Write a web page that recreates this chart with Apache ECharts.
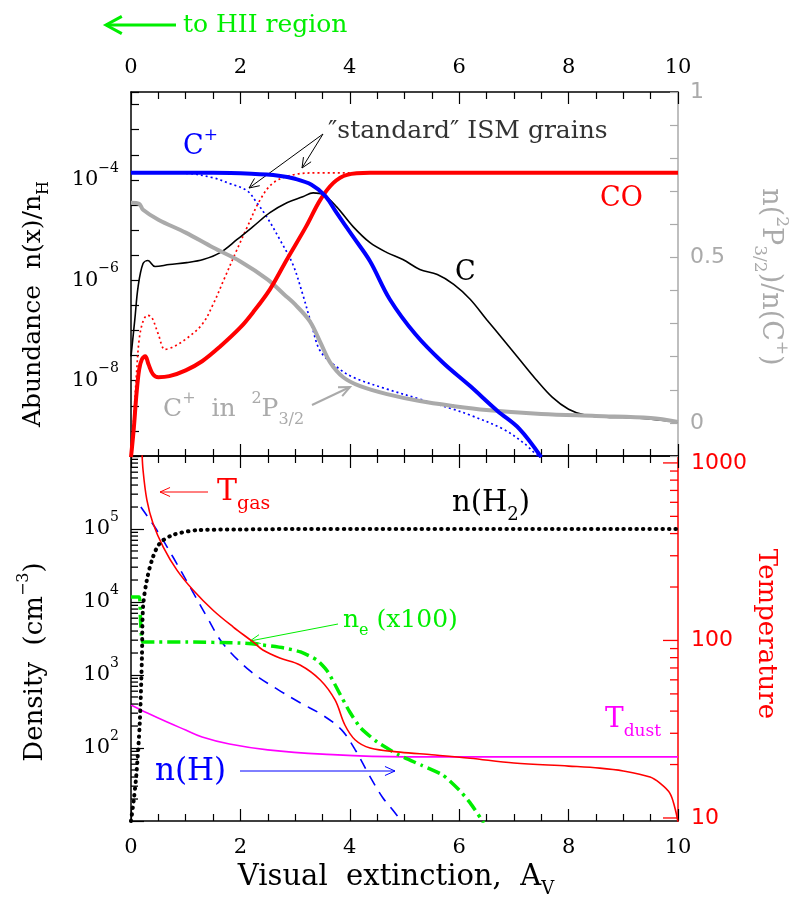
<!DOCTYPE html>
<html><head><meta charset="utf-8">
<script src="https://cdn.jsdelivr.net/npm/echarts@6/dist/echarts.min.js"></script>
<style>html,body{margin:0;padding:0;background:#fff}#c{width:800px;height:918px}</style>
</head><body><div id="c"></div>
<script>
// ---------- DATA ----------
// x: visual extinction A_V
const xTicks = [0, 2, 4, 6, 8, 10];

// Top panel: abundances n(x)/n_H
const avCplus = [0, 1.5, 2.2, 2.7, 3.0, 3.3, 3.55, 3.76, 4.06, 4.37, 4.73, 5.2, 5.7, 6.2, 6.7, 7.1, 7.5];
const cplus = [1.38e-4, 1.38e-4, 1.32e-4, 1.21e-4, 1.05e-4, 8.0e-5, 4.8e-5, 2.2e-5, 7.4e-6, 2.4e-6, 4.2e-7, 8.4e-8, 2.3e-8, 7.8e-9, 2.5e-9, 1.1e-9, 3.0e-10];

const avCplusStd = [0, 1.0, 1.5, 1.81, 2.12, 2.3, 2.49, 2.72, 2.96, 3.14, 3.3, 3.46, 3.77, 4.06, 4.68, 5.28, 5.89, 6.2, 6.8, 7.2, 7.45];
const cplusStd = [1.38e-4, 1.35e-4, 1.1e-4, 8.4e-5, 6.1e-5, 3.5e-5, 1.77e-5, 6.5e-6, 2.06e-6, 5.2e-7, 1.32e-7, 3.9e-8, 1.85e-8, 1.17e-8, 6.8e-9, 4.3e-9, 2.7e-9, 2.06e-9, 1.09e-9, 5.5e-10, 3.0e-10];

const avCO = [0, 0.05, 0.1, 0.15, 0.2, 0.26, 0.32, 0.4, 0.5, 0.7, 1.0, 1.3, 1.63, 2.0, 2.23, 2.54, 2.85, 3.2, 3.46, 3.7, 3.95, 4.37, 6, 8, 10];
const co = [3.0e-10, 1.09e-9, 5.4e-9, 1.69e-8, 2.67e-8, 3.06e-8, 2.12e-8, 1.35e-8, 1.17e-8, 1.23e-8, 1.61e-8, 2.44e-8, 4.8e-8, 1.15e-7, 2.29e-7, 6.6e-7, 2.6e-6, 1.17e-5, 4.0e-5, 8.7e-5, 1.26e-4, 1.38e-4, 1.38e-4, 1.38e-4, 1.38e-4];

const avCOStd = [0, 0.05, 0.1, 0.15, 0.22, 0.3, 0.38, 0.5, 0.62, 0.75, 1.0, 1.3, 1.5, 1.7, 1.9, 2.12, 2.36, 2.6, 2.96, 3.46, 6, 10];
const coStd = [3.0e-10, 1.72e-9, 1.35e-8, 6.7e-8, 1.52e-7, 2.0e-7, 1.82e-7, 8.4e-8, 4.2e-8, 4.6e-8, 6.7e-8, 1.32e-7, 3.3e-7, 1.04e-6, 3.3e-6, 1.12e-5, 4.0e-5, 8.7e-5, 1.26e-4, 1.38e-4, 1.38e-4, 1.38e-4];

const avC = [0, 0.07, 0.13, 0.22, 0.31, 0.44, 0.7, 1.02, 1.32, 1.63, 1.94, 2.23, 2.54, 2.85, 3.14, 3.33, 3.51, 3.76, 4.06, 4.37, 4.68, 4.97, 5.28, 5.6, 5.9, 6.2, 6.5, 6.8, 7.1, 7.4, 7.7, 8.0, 8.3, 8.7, 9.3, 10];
const carbon = [3.06e-8, 1.66e-7, 7.5e-7, 2.16e-6, 2.47e-6, 1.88e-6, 2.06e-6, 2.25e-6, 2.59e-6, 3.56e-6, 6.5e-6, 1.17e-5, 2.22e-5, 3.5e-5, 4.6e-5, 5.5e-5, 5.1e-5, 2.9e-5, 1.17e-5, 5.6e-6, 3.56e-6, 2.59e-6, 1.64e-6, 1.3e-6, 8.3e-7, 4.2e-7, 1.66e-7, 6.7e-8, 2.67e-8, 1.07e-8, 4.7e-9, 2.7e-9, 2.06e-9, 1.88e-9, 1.8e-9, 1.5e-9];

// fraction of C+ in 2P3/2 (right grey axis)
const avFrac = [0, 0.15, 0.22, 0.5, 1.0, 1.5, 2.0, 2.5, 2.8, 3.0, 3.27, 3.46, 3.64, 3.88, 4.19, 4.68, 5.28, 5.89, 6.5, 7.5, 8.5, 9.5, 10];
const frac = [0.665, 0.662, 0.644, 0.614, 0.575, 0.530, 0.488, 0.433, 0.388, 0.358, 0.307, 0.244, 0.183, 0.138, 0.111, 0.087, 0.066, 0.051, 0.039, 0.027, 0.021, 0.015, 0.003];

// Bottom panel: densities (cm^-3)
const avH2 = [0, 0.05, 0.1, 0.16, 0.2, 0.22, 0.29, 0.4, 0.53, 0.77, 1.26, 2.0, 3.0, 10];
const nH2 = [10, 19.4, 45, 220, 1770, 8550, 2.0e4, 4.1e4, 6.4e4, 8.3e4, 9.7e4, 9.85e4, 1.0e5, 1.0e5];

const avH = [0.18, 0.47, 0.77, 1.08, 1.39, 1.68, 2.2, 2.7, 3.1, 3.5, 3.85, 4.1, 4.35, 4.6, 4.8, 5.0];
const nH = [2.0e5, 9.7e4, 4.1e4, 1.6e4, 6.2e3, 2.7e3, 1.1e3, 622, 413, 283, 177, 94, 43, 21, 13.7, 8.8];

const avE = [0, 0.15, 0.17, 0.19, 0.22, 0.5, 1.0, 2.0, 2.4, 2.8, 3.1, 3.4, 3.6, 3.8, 4.0, 4.2, 4.5, 4.9, 5.3, 5.7, 6.0, 6.2, 6.45];
const ne100 = [1.17e4, 1.17e4, 6.6e3, 3.5e3, 2.83e3, 2.83e3, 2.83e3, 2.74e3, 2.58e3, 2.34e3, 2.07e3, 1.6e3, 1.1e3, 585, 311, 188, 121, 80, 58.5, 42.7, 26.6, 17.7, 9.4];

// Temperatures (K, right red axis)
const avTgas = [0.2, 0.22, 0.29, 0.4, 0.59, 0.84, 1.13, 1.5, 1.87, 2.23, 2.41, 2.72, 3.09, 3.46, 3.73, 3.91, 4.1, 4.37, 4.92, 5.5, 6.2, 7.0, 8.0, 8.57, 9.0, 9.49, 9.67, 9.85, 9.94, 10];
const tgas = [1180, 912, 619, 459, 336, 249, 193, 148, 119, 98.1, 88.4, 79.7, 72.8, 59.9, 46.2, 33.4, 27.5, 24.8, 23.5, 22.7, 21.7, 20.4, 19.6, 19.1, 18.4, 17.0, 15.7, 13.8, 11.5, 9.5];

const avTdust = [0, 0.3, 0.66, 1.0, 1.3, 1.8, 2.5, 3.5, 5.0, 10];
const tdust = [43.3, 39.0, 34.7, 31.3, 28.6, 26.1, 24.2, 22.9, 22.1, 22.1];

// axis tick labels
const abundLabelExp = [-4, -6, -8];
const densLabelExp = [2, 3, 4, 5];
const tempLabels = [10, 100, 1000];
const fracLabels = [0, 0.5, 1];
const minorMantissa = [2, 3, 4, 5, 6, 7, 8, 9];

// ---------- STYLE HELPERS ----------
const SERIF = "'DejaVu Serif', serif";
const SANS = "'DejaVu Sans', sans-serif";
const BLUE = '#0000ff', RED = '#ff0000', GREY = '#aaaaaa', GREEN = '#00ee00', MAG = '#ff00ff';

function richFor(fs, color) {
  const s = Math.round(fs * 0.62);
  return {
    sup: {fontSize: s, fontFamily: SERIF, fill: color, verticalAlign: 'top', lineHeight: s},
    sub: {fontSize: s, fontFamily: SERIF, fill: color, verticalAlign: 'bottom', lineHeight: Math.round(fs * 0.86)}
  };
}
function label(x, y, text, fs, color, opts) {
  opts = opts || {};
  return {type: 'text', x: x, y: y, rotation: opts.rot || 0, z: 100, silent: true,
    style: {text: text, fontSize: fs, fontFamily: opts.family || SERIF, fill: color,
      align: opts.align || 'left', verticalAlign: 'middle', lineHeight: Math.round(fs * 1.46),
      rich: richFor(fs, color)}};
}
function arrow(x1, y1, x2, y2, color, lw, head, ang) {
  const a = Math.atan2(y2 - y1, x2 - x1), s = ang || 0.42;
  return {type: 'group', z: 100, silent: true, children: [
    {type: 'line', shape: {x1: x1, y1: y1, x2: x2, y2: y2}, style: {stroke: color, lineWidth: lw}},
    {type: 'polyline', shape: {points: [[x2 - head * Math.cos(a - s), y2 - head * Math.sin(a - s)], [x2, y2],
      [x2 - head * Math.cos(a + s), y2 - head * Math.sin(a + s)]]}, style: {stroke: color, lineWidth: lw, fill: null}}
  ]};
}
function near(v, list) { return list.find(t => Math.abs(v - t) < 1e-6 * Math.max(1, Math.abs(t))); }
function expLabel(v, keep) {
  const n = near(v, keep);
  if (n === undefined) return '';
  return '10{s|' + (n < 0 ? '\u2212' + (-n) : n) + '}';
}

function xAx(grid, pos, showLabel) {
  return {type: 'value', gridIndex: grid, position: pos, min: 0, max: 10, interval: 2,
    axisLine: {show: true, onZero: false, lineStyle: {color: '#000', width: 1.5}},
    axisTick: {show: true, inside: true, length: 12, lineStyle: {color: '#000', width: 1.2}},
    minorTick: {show: true, splitNumber: 4, length: 7, lineStyle: {color: '#000', width: 1.2}},
    splitLine: {show: false}, minorSplitLine: {show: false},
    axisLabel: {show: showLabel, margin: pos === 'top' ? 14 : 16, fontSize: 21, fontFamily: SERIF, color: '#000',
      formatter: v => (near(v, xTicks) !== undefined ? String(Math.round(v)) : '')}};
}
const expRich = {s: {fontSize: 14, fontFamily: SERIF, color: '#000', verticalAlign: 'top', lineHeight: 14}};

const yAxes = [
  {type: 'value', gridIndex: 0, position: 'left', min: -9.5, max: -2.25, interval: 0.5,
    axisLine: {show: true, onZero: false, lineStyle: {color: '#000', width: 1.5}},
    axisTick: {show: true, inside: true, length: 8, lineStyle: {color: '#000', width: 1.2}},
    splitLine: {show: false},
    axisLabel: {margin: 12, fontSize: 21, fontFamily: SERIF, color: '#000', lineHeight: 38, rich: expRich,
      formatter: v => expLabel(v, abundLabelExp)}},
  {type: 'value', gridIndex: 0, position: 'right', min: -0.1, max: 1, interval: 0.1,
    axisLine: {show: true, onZero: false, lineStyle: {color: GREY, width: 1.5}},
    axisTick: {show: true, inside: true, length: 8, lineStyle: {color: GREY, width: 1.2}},
    splitLine: {show: false},
    axisLabel: {margin: 12, fontSize: 22, fontFamily: SANS, color: GREY,
      formatter: v => { const t = near(v, fracLabels); return t === undefined ? '' : String(t); }}},
  {type: 'value', gridIndex: 1, position: 'left', min: 1, max: 6, interval: 1,
    axisLine: {show: true, onZero: false, lineStyle: {color: '#000', width: 1.5}},
    axisTick: {show: true, inside: true, length: 13, lineStyle: {color: '#000', width: 1.2}},
    splitLine: {show: false},
    axisLabel: {margin: 12, fontSize: 21, fontFamily: SERIF, color: '#000', lineHeight: 38, rich: expRich,
      formatter: v => expLabel(v, densLabelExp)}},
  {type: 'value', gridIndex: 1, position: 'right', min: 0.983, max: 3.039, splitNumber: 2,
    axisLine: {show: true, onZero: false, lineStyle: {color: RED, width: 1.5}},
    axisTick: {show: false},
    splitLine: {show: false},
    axisLabel: {margin: 13, fontSize: 22, fontFamily: SANS, color: RED,
      formatter: v => { const t = near(Math.pow(10, v), tempLabels); return t === undefined ? '' : String(t); }}}
];

const L10 = Math.log10;
const ident = v => v;
function ln(xs, ys, xi, yi, style, tf, smooth, z) {
  return {type: 'line', xAxisIndex: xi, yAxisIndex: yi, data: xs.map((x, i) => [x, tf(ys[i])]),
    showSymbol: false, symbol: 'none', smooth: smooth, lineStyle: style, clip: true, silent: true, z: z || 2,
    animation: false};
}
// log tick positions (ticks only, not data)
function logTicks(decFrom, decTo, mantissas) {
  const out = [];
  for (let d = decFrom; d < decTo; d++) mantissas.forEach(m => out.push([0, d + L10(m)]));
  return out;
}
function tickSeries(xi, yi, data, side, len, color) {
  return {type: 'custom', xAxisIndex: xi, yAxisIndex: yi, data: data, silent: true, z: 5, animation: false,
    renderItem: (params, api) => {
      const p = api.coord([side === 'left' ? 0 : 10, api.value(1)]);
      const dx = side === 'left' ? len : -len;
      return {type: 'line', shape: {x1: p[0], y1: p[1], x2: p[0] + dx, y2: p[1]}, style: {stroke: color, lineWidth: 1.3}};
    }};
}

const dotted = [2, 3];
const series = [
  ln(avCplusStd, cplusStd, 0, 0, {color: BLUE, width: 1.7, type: dotted}, L10, 0.35),
  ln(avCOStd, coStd, 0, 0, {color: RED, width: 1.7, type: dotted}, L10, 0.35),
  ln(avC, carbon, 0, 0, {color: '#000', width: 1.6}, L10, 0.35),
  ln(avFrac, frac, 0, 1, {color: GREY, width: 4}, ident, 0.35),
  ln(avCO, co, 0, 0, {color: RED, width: 4}, L10, 0.35, 3),
  ln(avCplus, cplus, 0, 0, {color: BLUE, width: 4}, L10, 0.35, 4),

  ln(avTdust, tdust, 3, 3, {color: MAG, width: 1.6}, L10, 0.4),
  ln(avH, nH, 3, 2, {color: BLUE, width: 1.6, type: [11, 8]}, L10, 0.35),
  ln(avE, ne100, 3, 2, {color: GREEN, width: 3.5, type: [13, 5, 3, 5]}, L10, 0.2),
  ln(avTgas, tgas, 3, 3, {color: RED, width: 1.6}, L10, 0.35),
  ln(avH2, nH2, 3, 2, {color: '#000', width: 4, type: [0.5, 6], cap: 'round'}, L10, 0.3, 3),

  tickSeries(3, 2, logTicks(1, 6, minorMantissa), 'left', 7, '#000'),
  tickSeries(3, 3, logTicks(1, 3, minorMantissa), 'right', 8, RED),
  tickSeries(3, 3, logTicks(1, 4, [1]), 'right', 15, RED)
];

const graphics = [
  arrow(176, 25, 106, 25, GREEN, 3, 18, 0.5),
  label(183, 25, 'to HII region', 25, GREEN),
  label(183, 147, 'C{sup|+}', 27, BLUE),
  label(328, 131, '\u2033standard\u2033 ISM grains', 25, '#333333'),
  arrow(323, 134, 249, 188, '#000', 1, 11),
  arrow(323, 134, 302, 168, '#000', 1, 11),
  label(600, 199, 'CO', 27, RED),
  label(455, 273, 'C', 27, '#000'),
  label(163, 409, 'C{sup|+}  in  {sup|2}P{sub|3/2}', 25, GREY),
  arrow(312, 405, 350, 387, GREY, 2, 12),
  label(217, 492, 'T{sub|gas}', 30, RED),
  arrow(208, 492, 160, 492, RED, 1, 11),
  label(452, 503, 'n(H{sub|2})', 29, '#000'),
  label(343, 620, 'n{sub|e} (x100)', 25, GREEN),
  arrow(338, 624, 250, 641, GREEN, 1, 11),
  label(605, 720, 'T{sub|dust}', 28, MAG),
  label(155, 772, 'n(H)', 31, BLUE),
  arrow(240, 771, 395, 771, BLUE, 1, 11),
  label(33, 304, 'Abundance  n(x)/n{sub|H}', 25, '#000', {align: 'center', rot: Math.PI / 2}),
  label(770, 277, 'n({sup|2}P{sub|3/2})/n(C{sup|+})', 27, GREY, {align: 'center', rot: -Math.PI / 2}),
  label(35, 662, 'Density  (cm{sup|\u22123})', 26, '#000', {align: 'center', rot: Math.PI / 2}),
  label(766, 634, 'Temperature', 26, RED, {align: 'center', rot: -Math.PI / 2}),
  label(396, 877, 'Visual  extinction,  A{sub|V}', 29, '#000', {align: 'center'})
];

const chart = echarts.init(document.getElementById('c'), null, {renderer: 'canvas'});
chart.setOption({
  animation: false,
  backgroundColor: '#fff',
  grid: [
    {left: 131, top: 92, width: 547, height: 364},
    {left: 131, top: 456, width: 547, height: 365}
  ],
  xAxis: [xAx(0, 'top', true), xAx(0, 'bottom', false), xAx(1, 'top', false), xAx(1, 'bottom', true)],
  yAxis: yAxes,
  series: series,
  graphic: graphics
});
</script></body></html>
